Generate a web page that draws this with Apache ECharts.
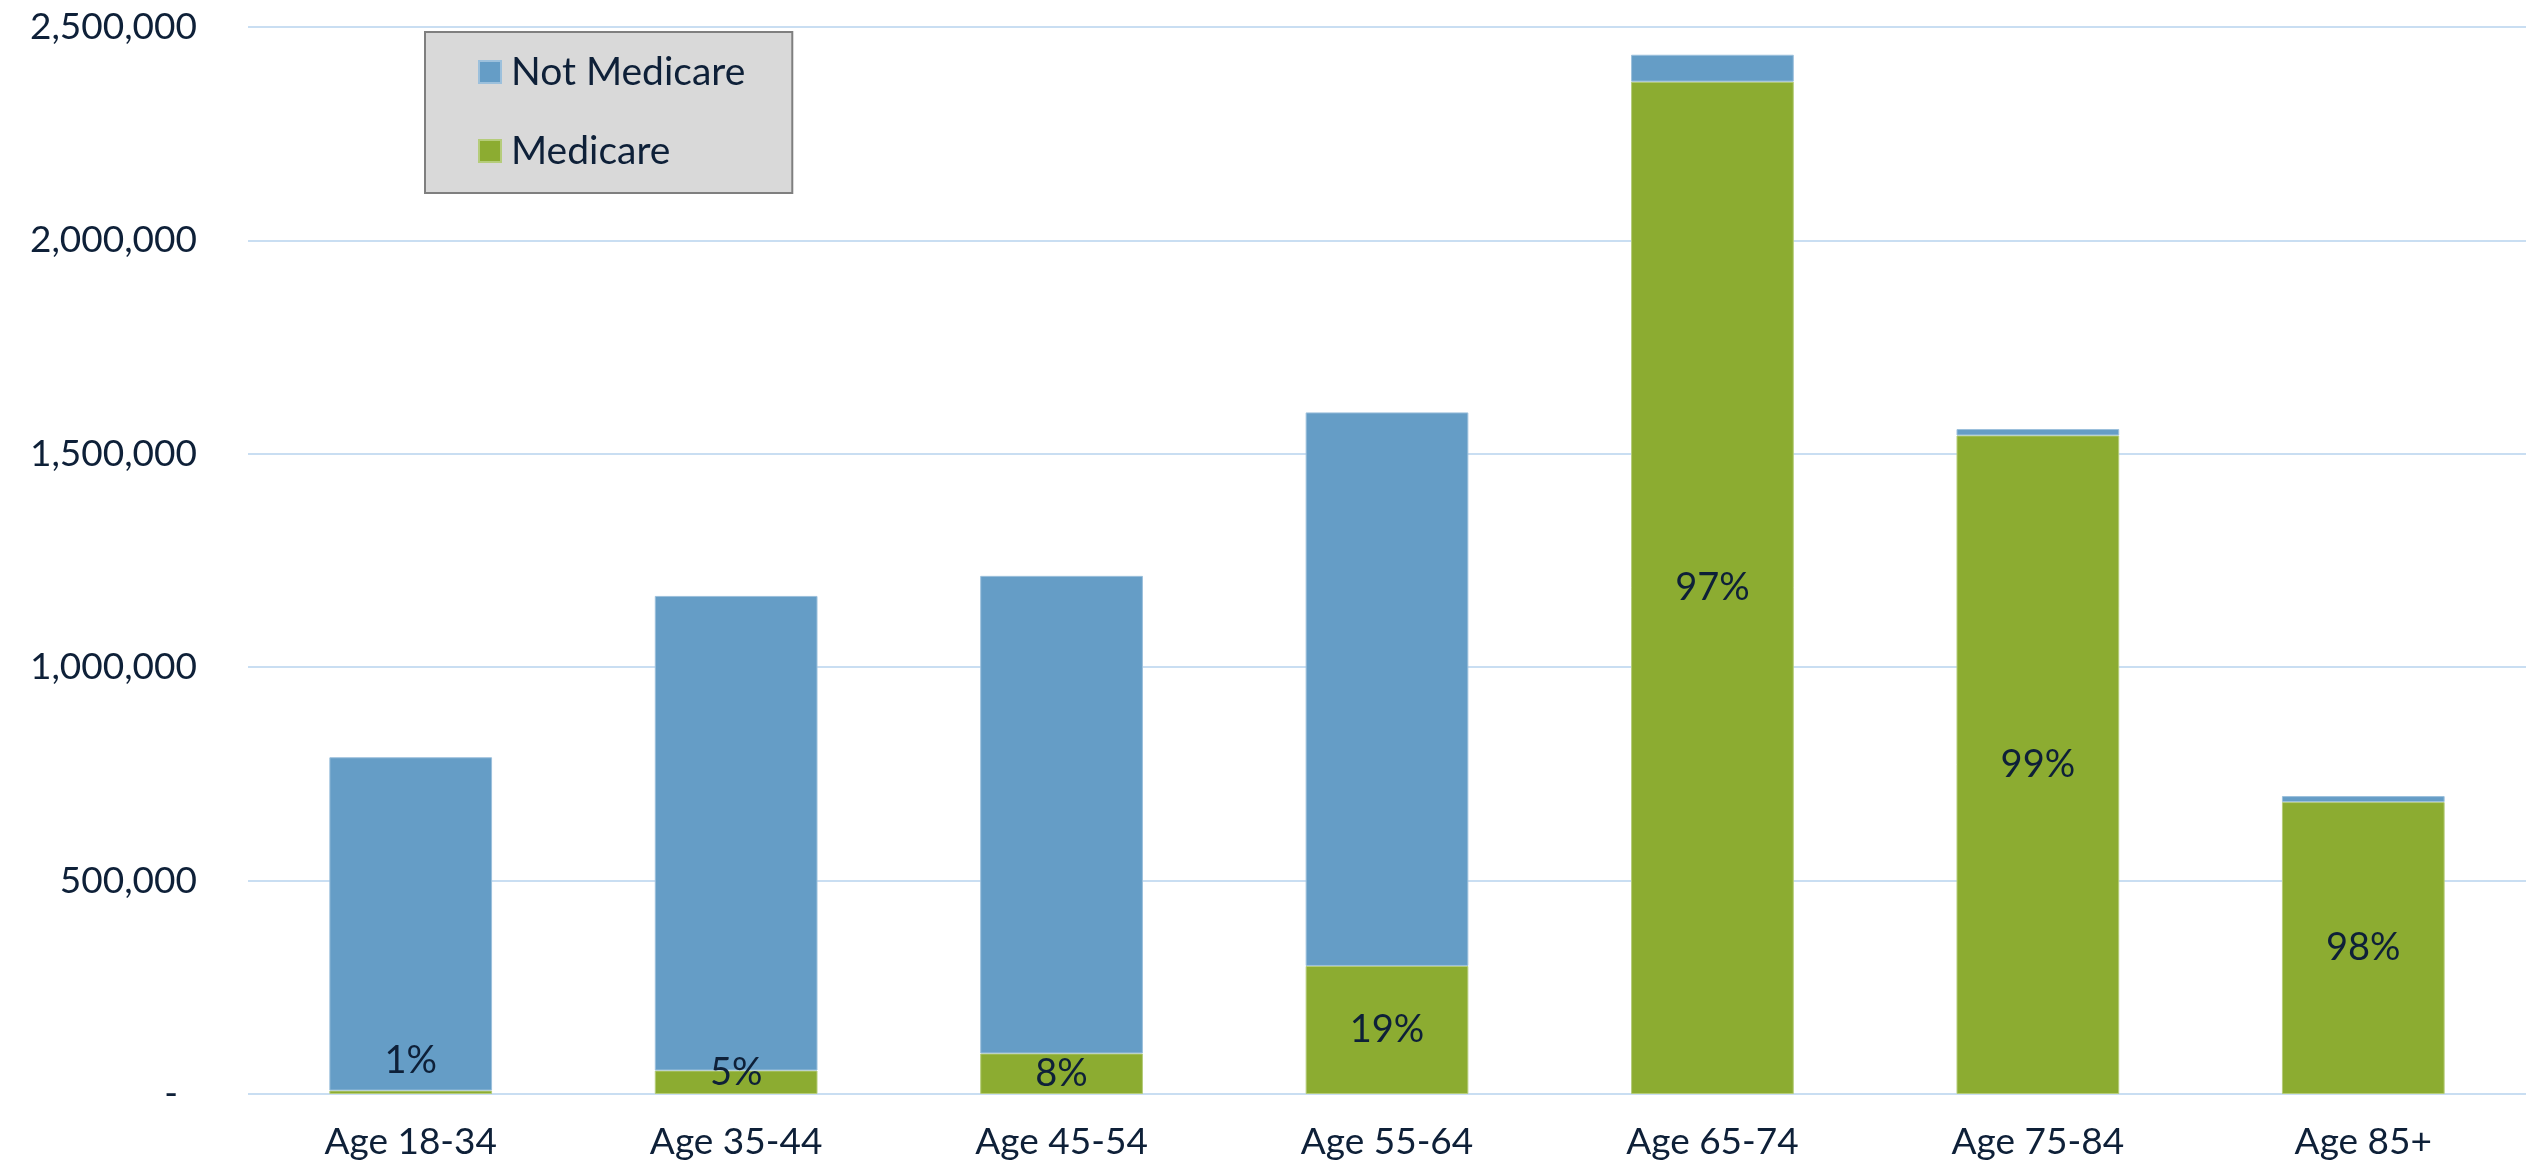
<!DOCTYPE html>
<html lang="en">
  <head>
    <meta charset="UTF-8" />
    <title>Medicare by age</title>
    <style>
      html,
      body {
        margin: 0;
        padding: 0;
        background: #fff;
      }

      #mainCharts {
        width: 2526px;
        height: 1169px;
      }
    </style>
    <script src="https://cdn.jsdelivr.net/npm/echarts@6/dist/echarts.min.js"></script>
  </head>
  <body>
    <div id="mainCharts"></div>
    <script>
      // values
      const categories = ['Age 18-34', 'Age 35-44', 'Age 45-54', 'Age 55-64', 'Age 65-74', 'Age 75-84', 'Age 85+']
      const medicare = [8000, 55000, 95000, 300000, 2372000, 1543000, 684000]
      const notMedicare = [781000, 1112000, 1119000, 1297000, 63000, 15000, 14000]
      const pctLabels = ['1%', '5%', '8%', '19%', '97%', '99%', '98%']
      const yTicks = [0, 500000, 1000000, 1500000, 2000000, 2500000]

      const textColor = '#0e2038'
      const fontFamily = 'Lato, "Open Sans", sans-serif'

      function initEchart(el) {
        const myChart = echarts.init(el)

        const option = {
          animation: false,
          textStyle: { fontFamily: fontFamily },
          grid: { left: 248, right: 0, top: 27, bottom: 75, containLabel: false },
          legend: {
            data: ['Not Medicare', 'Medicare'],
            orient: 'vertical',
            left: 425,
            top: 32,
            icon: 'rect',
            itemWidth: 22,
            itemHeight: 22,
            itemGap: 35,
            padding: [18, 47, 20, 53],
            backgroundColor: '#d9d9d9',
            borderColor: '#7f7f7f',
            borderWidth: 2,
            textStyle: {
              fontSize: 39,
              color: textColor,
              lineHeight: 44,
              padding: [0, 0, 0, 5],
              fontFamily: fontFamily
            }
          },
          xAxis: {
            type: 'category',
            data: categories,
            axisLine: { show: false },
            axisTick: { show: false },
            axisLabel: { fontSize: 37, color: textColor, margin: 30 }
          },
          yAxis: {
            type: 'value',
            min: yTicks[0],
            max: yTicks[yTicks.length - 1],
            interval: yTicks[1] - yTicks[0],
            axisLine: { show: false },
            axisTick: { show: false },
            splitLine: { lineStyle: { color: '#c9def2', width: 2 } },
            axisLabel: {
              fontSize: 37,
              color: textColor,
              margin: 51,
              formatter: v => (v === 0 ? '-  ' : v.toLocaleString('en-US'))
            }
          },
          series: [
            {
              name: 'Medicare',
              type: 'bar',
              stack: 'total',
              barWidth: '50%',
              itemStyle: { color: '#8cac31', borderColor: '#b5cc7a', borderWidth: 1 },
              data: medicare.map((v, i) => {
                const item = { value: v }
                // excel nudges the labels of the thin bars up
                if (i === 0) item.label = { offset: [0, -32] }
                if (i === 1) item.label = { offset: [0, -10] }
                return item
              }),
              label: {
                show: true,
                position: 'inside',
                fontSize: 38,
                color: textColor,
                formatter: p => pctLabels[p.dataIndex]
              }
            },
            {
              name: 'Not Medicare',
              type: 'bar',
              stack: 'total',
              barWidth: '50%',
              itemStyle: { color: '#659dc6', borderColor: '#9cc0dc', borderWidth: 1 },
              data: notMedicare
            }
          ]
        }

        myChart.setOption(option)
      }

      const mainChartsEle = document.getElementById('mainCharts')
      if (mainChartsEle) {
        initEchart(mainChartsEle)
      }
    </script>
  </body>
</html>
